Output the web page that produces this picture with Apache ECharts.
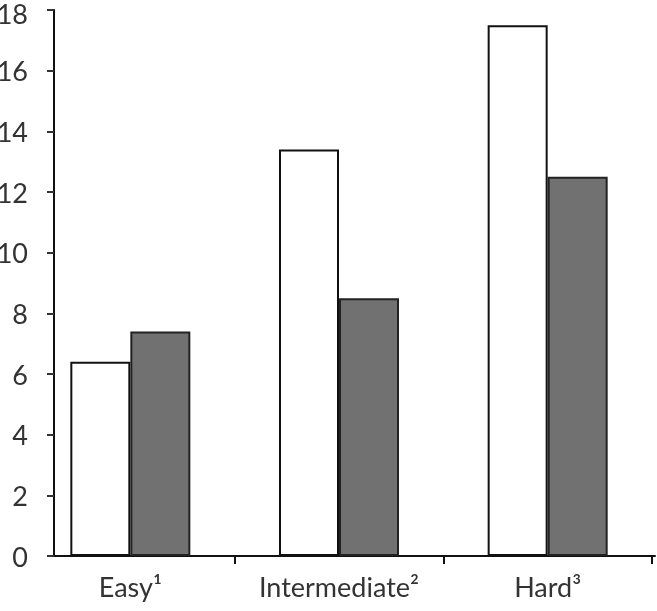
<!DOCTYPE html>
<html>
<head>
<meta charset="utf-8">
<script src="https://cdn.jsdelivr.net/npm/echarts@6/dist/echarts.min.js"></script>
<style>
html,body{margin:0;padding:0;background:#fff;}
#chart{width:657px;height:611px;}
</style>
</head>
<body>
<div id="chart"></div>
<script>
const categories = ['Easy\u00B9', 'Intermediate\u00B2', 'Hard\u00B3'];
const seriesWhite = [6.4, 13.4, 17.5];
const seriesGray = [7.4, 8.5, 12.5];
const yTicks = [0, 2, 4, 6, 8, 10, 12, 14, 16, 18];

const chart = echarts.init(document.getElementById('chart'));
const fontFamily = 'Lato, "Open Sans", sans-serif';
const yMax = yTicks[yTicks.length - 1];
chart.setOption({
  animation: false,
  backgroundColor: '#fff',
  grid: [
    { left: 26, right: 5, top: 10, bottom: 55, containLabel: false, outerBoundsMode: 'none' },
    { left: 54, right: 2, top: 10, bottom: 55, containLabel: false, outerBoundsMode: 'none' }
  ],
  xAxis: [
    {
      type: 'category',
      gridIndex: 0,
      data: categories,
      axisLine: { show: false },
      axisTick: {
        show: true,
        length: 8,
        interval: function (index) { return index !== 0; },
        lineStyle: { color: '#111', width: 2 }
      },
      axisLabel: {
        interval: 0,
        hideOverlap: false,
        color: '#333',
        fontSize: 27,
        fontFamily: fontFamily,
        margin: 19
      }
    },
    {
      type: 'value',
      gridIndex: 1,
      min: 0, max: 1,
      axisLine: { show: true, onZero: false, lineStyle: { color: '#111', width: 2 } },
      axisTick: { show: false },
      axisLabel: { show: false },
      splitLine: { show: false }
    }
  ],
  yAxis: [
    {
      type: 'value',
      gridIndex: 0,
      min: yTicks[0],
      max: yMax,
      interval: 2,
      offset: -28,
      axisLine: { show: true, lineStyle: { color: '#111', width: 2 } },
      axisTick: { show: true, length: 7, lineStyle: { color: '#333', width: 2 } },
      splitLine: { show: false },
      axisLabel: {
        color: '#333',
        fontSize: 27,
        fontFamily: fontFamily,
        margin: 26,
        formatter: function (v) { return v === yMax ? '{top|' + v + '}' : '{n|' + v + '}'; },
        rich: {
          top: { fontSize: 27, fontFamily: fontFamily, color: '#333', padding: [10, 0, 0, 0] },
          n: { fontSize: 27, fontFamily: fontFamily, color: '#333', padding: [4, 0, 0, 0] }
        }
      }
    },
    {
      type: 'value',
      gridIndex: 1,
      min: 0, max: 1,
      show: false
    }
  ],
  series: [
    {
      type: 'bar',
      xAxisIndex: 0,
      yAxisIndex: 0,
      data: seriesWhite,
      barWidth: 60,
      barGap: '0%',
      itemStyle: { color: '#ffffff', borderColor: '#111', borderWidth: 2 }
    },
    {
      type: 'bar',
      xAxisIndex: 0,
      yAxisIndex: 0,
      data: seriesGray,
      barWidth: 60,
      barGap: '0%',
      itemStyle: { color: '#717171', borderColor: '#222', borderWidth: 2 }
    }
  ]
});
</script>
</body>
</html>
